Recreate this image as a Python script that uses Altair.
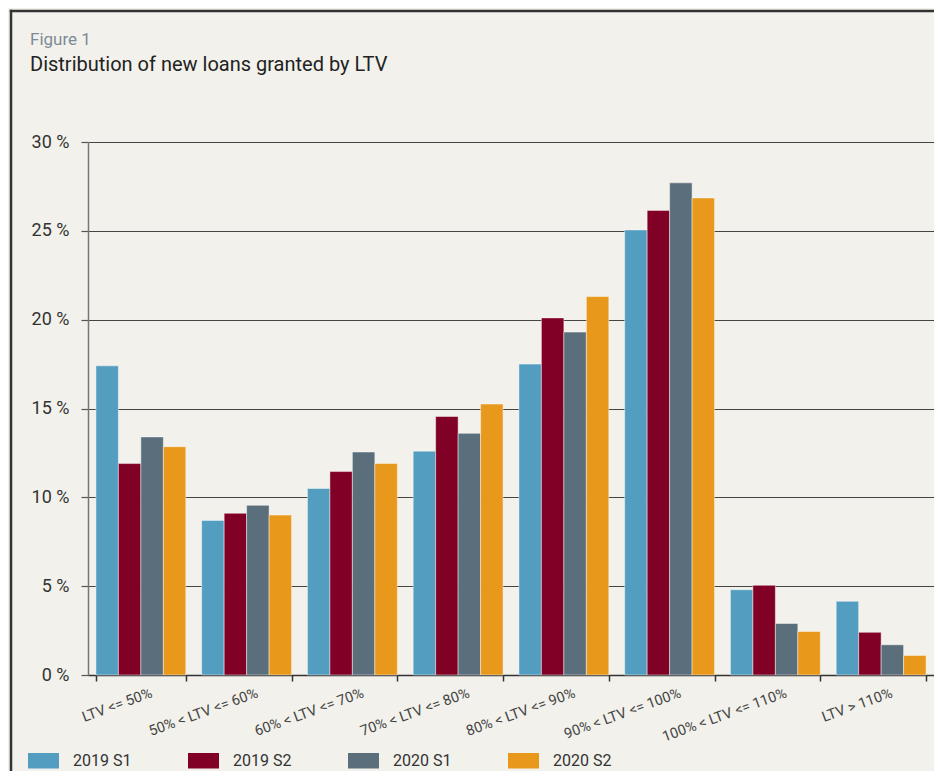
import altair as alt
import pandas as pd

categories = ["LTV <= 50%", "50% < LTV <= 60%", "60% < LTV <= 70%", "70% < LTV <= 80%",
              "80% < LTV <= 90%", "90% < LTV <= 100%", "100% < LTV <= 110%", "LTV > 110%"]
series = ["2019 S1", "2019 S2", "2020 S1", "2020 S2"]
s2019_1 = [17.4, 8.7, 10.5, 12.6, 17.5, 25.05, 4.8, 4.15]
s2019_2 = [11.9, 9.1, 11.45, 14.55, 20.1, 26.15, 5.05, 2.4]
s2020_1 = [13.4, 9.55, 12.55, 13.6, 19.3, 27.7, 2.9, 1.7]
s2020_2 = [12.85, 9.0, 11.9, 15.25, 21.3, 26.85, 2.45, 1.1]
colors = ["#539dc0", "#800026", "#5b6e7b", "#e8981b"]

rows = []
for name, vals in zip(series, [s2019_1, s2019_2, s2020_1, s2020_2]):
    for c, v in zip(categories, vals):
        rows.append({"category": c, "series": name, "value": v})
df = pd.DataFrame(rows)

FONT = "Roboto"
one = pd.DataFrame({"a": [0]})

# decorative frame lines (top and left edges of the figure box)
frame_top = alt.Chart(one).mark_rule(stroke="#333", strokeWidth=2.5).encode(
    x=alt.value(-78.25), x2=alt.value(846), y=alt.value(-131)
)
frame_left = alt.Chart(one).mark_rule(stroke="#333", strokeWidth=2.5).encode(
    x=alt.value(-77), y=alt.value(-132.25), y2=alt.value(630)
)

bars = alt.Chart(df).mark_bar(stroke="white", strokeOpacity=0.45, strokeWidth=1).encode(
    x=alt.X("category:N", sort=categories, title=None,
            scale=alt.Scale(paddingInner=0.15, paddingOuter=0.075),
            axis=alt.Axis(labelAngle=-20, labelAlign="right", labelBaseline="top",
                          labelOffset=8, labelPadding=5, tickBand="extent",
                          tickSize=6, tickColor="#333", domainColor="#333",
                          domainWidth=1.5, tickWidth=1.5, labelFontSize=14.5,
                          labelColor="#444", labelFont=FONT, grid=False)),
    xOffset=alt.XOffset("series:N", sort=series, scale=alt.Scale(paddingInner=0, paddingOuter=0)),
    y=alt.Y("value:Q", title=None,
            scale=alt.Scale(domain=[0, 30]),
            axis=alt.Axis(values=[0, 5, 10, 15, 20, 25, 30], labelExpr="datum.value + ' %'",
                          tickSize=7, labelPadding=12, labelFontSize=18, labelColor="#333",
                          labelFont=FONT, domainColor="#777", domainWidth=1.5,
                          tickColor="#555", tickWidth=1.2,
                          grid=True, gridColor="#444", gridWidth=1.2)),
    color=alt.Color("series:N", sort=series,
                    scale=alt.Scale(domain=series, range=colors),
                    legend=alt.Legend(title=None, orient="none", direction="horizontal",
                                      legendX=-60, legendY=603,
                                      symbolType="M-1,-0.5H1V0.5H-1Z", symbolSize=961,
                                      symbolStrokeWidth=0, symbolOpacity=1,
                                      labelFontSize=16, labelColor="#333", labelFont=FONT,
                                      labelOffset=14, columnPadding=56)),
)

chart = alt.layer(bars, frame_top, frame_left).properties(
    width=846, height=533,
    background="#f2f1eb",
    padding={"left": 80, "top": 134, "right": 0, "bottom": 96},
    autosize=alt.AutoSizeParams(type="none"),
    title=alt.TitleParams(
        text="Figure 1",
        subtitle="Distribution of new loans granted by LTV",
        anchor="start", frame="group", dx=-58, offset=-67,
        font=FONT, fontSize=17, fontWeight="normal", color="#7d8b96",
        subtitleFont=FONT, subtitleFontSize=20, subtitleColor="#222",
        subtitlePadding=6,
    ),
).configure_view(stroke=None)

chart.save("out.html", embed_options={"renderer": "svg", "actions": False})
